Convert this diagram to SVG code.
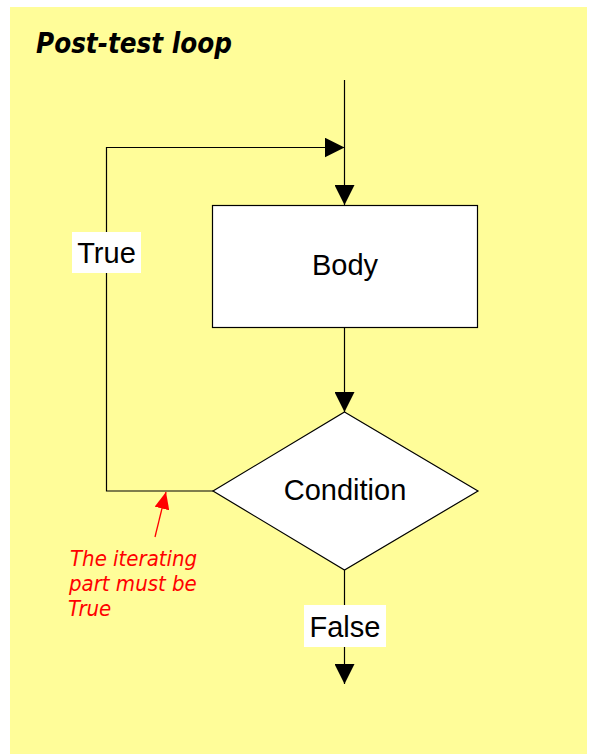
<svg xmlns="http://www.w3.org/2000/svg" width="589" height="754" viewBox="0 0 589 754">
  <style>
    .panel { fill: #fffd99; }
    .shape { fill: #ffffff; stroke: #000000; stroke-width: 1.2; }
    .wire { fill: none; stroke: #000000; stroke-width: 1.2; }
    .note-wire { fill: none; stroke: #ff0000; stroke-width: 1.3; }
    .label { font-family: "Liberation Sans", Arial, sans-serif; font-size: 29px; fill: #000000; text-anchor: middle; }
    .tag-bg { fill: #ffffff; }
    .title { font-family: "DejaVu Sans Condensed", "DejaVu Sans", sans-serif; font-size: 27.5px; font-weight: bold; font-style: italic; fill: #000000; }
    .note { font-family: "DejaVu Sans Condensed", "DejaVu Sans", sans-serif; font-size: 22px; font-style: italic; fill: #ff0000; }
  </style>
  <defs>
    <marker id="head" markerUnits="userSpaceOnUse" markerWidth="20" markerHeight="20" refX="20" refY="10" orient="auto">
      <path d="M0,0 L20,10 L0,20 Z" fill="#000000"/>
    </marker>
    <marker id="head-red" markerUnits="userSpaceOnUse" markerWidth="17" markerHeight="15" refX="17" refY="7.5" orient="auto">
      <path d="M0,0 L17,7.5 L0,15 Z" fill="#ff0000"/>
    </marker>
  </defs>

  <!-- background panel -->
  <rect class="panel" x="10" y="7" width="577" height="747"/>

  <text class="title" x="36" y="53">Post-test loop</text>

  <!-- flow connectors -->
  <g id="connectors">
    <line class="wire" x1="344.5" y1="80" x2="344.5" y2="205" marker-end="url(#head)"/>
    <line class="wire" x1="344.5" y1="327.5" x2="344.5" y2="412" marker-end="url(#head)"/>
    <polyline class="wire" points="213,491 106.5,491 106.5,147.5 344.5,147.5" marker-end="url(#head)"/>
    <line class="wire" x1="344.5" y1="570" x2="344.5" y2="684" marker-end="url(#head)"/>
  </g>

  <g id="body">
    <rect class="shape" x="212.5" y="205.5" width="265" height="122"/>
    <text class="label" x="345" y="275">Body</text>
  </g>

  <g id="condition">
    <polygon class="shape" points="344.5,412 478,491 344.5,570 213,491"/>
    <text class="label" x="345" y="500">Condition</text>
  </g>

  <g id="label-true">
    <rect class="tag-bg" x="72" y="232" width="69" height="41"/>
    <text class="label" x="106.5" y="263">True</text>
  </g>

  <g id="label-false">
    <rect class="tag-bg" x="304" y="605" width="82" height="42"/>
    <text class="label" x="345" y="637">False</text>
  </g>

  <!-- annotation pointing at the loop-back path -->
  <g id="note">
    <line class="note-wire" x1="155" y1="537" x2="166" y2="492" marker-end="url(#head-red)"/>
    <text class="note" x="70" y="566">The iterating</text>
    <text class="note" x="69" y="591">part must be</text>
    <text class="note" x="68" y="616">True</text>
  </g>
</svg>
